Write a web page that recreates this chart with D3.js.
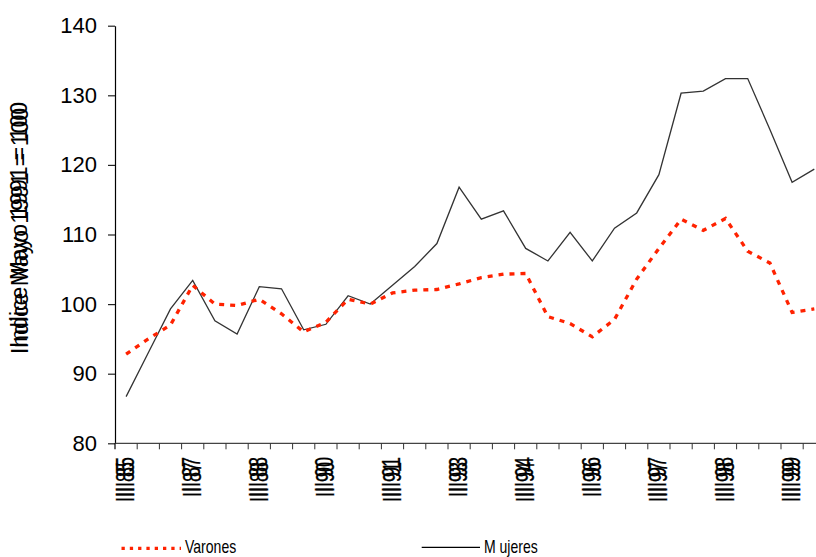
<!DOCTYPE html>
<html>
<head>
<meta charset="utf-8">
<script src="https://cdn.jsdelivr.net/npm/d3@7"></script>
<style>
  html, body { margin: 0; padding: 0; background: #fff; }
  svg { display: block; }
</style>
</head>
<body>
<svg id="chart" width="816" height="557"></svg>
<script>
// Survey waves: 32 semiannual observations, labelled every third wave
const waveCount = 32;
const tickLabels = ["III 85", "II 87", "III 88", "II 90", "III 91", "II 93",
                    "III 94", "II 96", "III 97", "III 98", "III 99"];
const labelEvery = 3;

// Index values (May 1991 = 100)
const varones = [92.8, 95.0, 97.0, 102.7, 100.0, 99.8, 100.7, 98.6, 96.0, 97.4,
                 100.7, 100.0, 101.6, 102.0, 102.1, 102.9, 103.8, 104.3, 104.4, 98.2,
                 97.2, 95.3, 97.8, 103.6, 108.0, 112.2, 110.6, 112.3, 107.6, 105.9,
                 98.8, 99.3];
const mujeres = [86.7, 93.0, 99.3, 103.4, 97.6, 95.7, 102.5, 102.2, 96.3, 97.1,
                 101.2, 100.0, 102.7, 105.4, 108.7, 116.8, 112.2, 113.4, 108.0, 106.2,
                 110.3, 106.2, 110.9, 113.1, 118.6, 130.3, 130.6, 132.4, 132.4, 125.1,
                 117.5, 119.4];
const yTicks = [80, 90, 100, 110, 120, 130, 140];

const svg = d3.select("#chart");
const plotLeft = 115, plotTop = 25.7, plotBottom = 443.3, step = 22.2;

const x = d3.scaleBand().domain(d3.range(waveCount)).range([plotLeft, plotLeft + step * waveCount]).padding(0);
const y = d3.scaleLinear().domain([80, 140]).range([plotBottom, plotTop]);
const cx = i => x(i) + x.bandwidth() / 2;

// Y axis
const yAxis = svg.append("g")
  .attr("transform", `translate(${plotLeft},0)`)
  .call(d3.axisLeft(y).tickValues(yTicks).tickSize(7).tickPadding(11).tickSizeOuter(0));
yAxis.select(".domain").attr("stroke", "#000").attr("stroke-width", 1.2);
yAxis.selectAll(".tick line").attr("stroke", "#222").attr("stroke-width", 1.2);
yAxis.selectAll(".tick text")
  .attr("font-family", "'Liberation Sans', Arial, sans-serif")
  .attr("font-size", 22).attr("fill", "#000");

// X axis line and tick marks between waves
svg.append("line")
  .attr("x1", plotLeft).attr("x2", 816).attr("y1", plotBottom).attr("y2", plotBottom)
  .attr("stroke", "#444").attr("stroke-width", 1.2);
svg.append("line")
  .attr("x1", plotLeft).attr("x2", plotLeft).attr("y1", plotBottom).attr("y2", plotBottom + 6)
  .attr("stroke", "#000").attr("stroke-width", 1.2);
svg.append("g").selectAll("line")
  .data(d3.range(1, waveCount))
  .join("line")
  .attr("x1", d => x(d)).attr("x2", d => x(d))
  .attr("y1", plotBottom).attr("y2", plotBottom + 6)
  .attr("stroke", "#333").attr("stroke-width", 1);

// Rotated wave labels (drawn with a slight double strike)
const labelFont = "'Liberation Sans', Arial, sans-serif";
const labelG = svg.append("g");
tickLabels.forEach((t, k) => {
  const i = k * labelEvery;
  [[0, 0], [5, 0.8]].forEach(([dy, dx]) => {
    labelG.append("text")
      .attr("transform", `translate(${cx(i) + 7.5 + dx},${457 + dy}) rotate(-90) scale(0.72,1)`)
      .attr("text-anchor", "end")
      .attr("font-family", labelFont)
      .attr("font-size", 25)
      .attr("fill", "#000")
      .attr("stroke", "#000")
      .attr("stroke-width", 0.3)
      .text(t);
  });
});

// Y axis title (double strike)
[[0, 0], [6, 0.8]].forEach(([dy, dx]) => {
  svg.append("text")
    .attr("transform", `translate(${27 + dx},${225 + dy}) rotate(-90)`)
    .attr("text-anchor", "middle")
    .attr("font-family", labelFont)
    .attr("font-size", 23)
    .attr("fill", "#000")
    .text("Indice Mayo 1991 = 100");
});

// Series
const line = d3.line().x((d, i) => cx(i)).y(d => y(d));

svg.append("path")
  .datum(mujeres)
  .attr("d", line)
  .attr("fill", "none")
  .attr("stroke", "#333")
  .attr("stroke-width", 1.3);

svg.append("path")
  .datum(varones)
  .attr("d", line)
  .attr("fill", "none")
  .attr("stroke", "#ff2200")
  .attr("stroke-width", 3.3)
  .attr("stroke-dasharray", "5,6");

// Legend
const legFont = "'Liberation Sans', Arial, sans-serif";
svg.append("line")
  .attr("x1", 121.5).attr("x2", 181).attr("y1", 548.3).attr("y2", 548.3)
  .attr("stroke", "#ff2200").attr("stroke-width", 3.3).attr("stroke-dasharray", "3.3,5");
svg.append("text")
  .attr("transform", "translate(185,553) scale(0.78,1)")
  .attr("font-family", legFont).attr("font-size", 18).attr("fill", "#000")
  .text("Varones");

svg.append("line")
  .attr("x1", 421.7).attr("x2", 480).attr("y1", 547.3).attr("y2", 547.3)
  .attr("stroke", "#000").attr("stroke-width", 1.2);
const muj = svg.append("text")
  .attr("transform", "translate(484,553) scale(0.78,1)")
  .attr("font-family", legFont).attr("font-size", 18).attr("fill", "#000");
muj.append("tspan").text("M");
muj.append("tspan").attr("dx", 5).text("ujeres");
</script>
</body>
</html>
